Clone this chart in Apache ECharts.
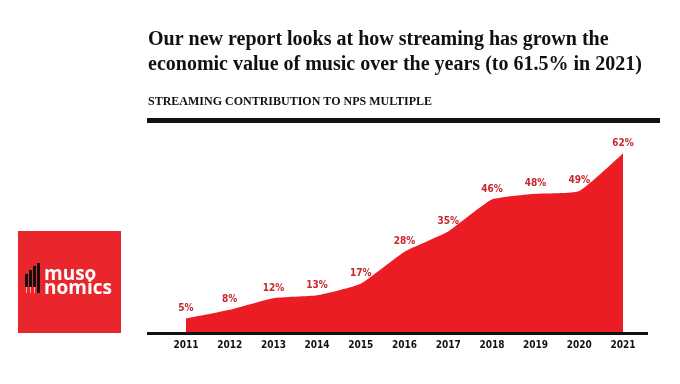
<!DOCTYPE html>
<html><head><meta charset="utf-8">
<script src="https://cdn.jsdelivr.net/npm/echarts@6/dist/echarts.min.js"></script>
<style>html,body{margin:0;padding:0;background:#fff}#c{width:680px;height:384px}</style>
</head><body><div id="c"></div>
<script>
var years = ['2011','2012','2013','2014','2015','2016','2017','2018','2019','2020','2021'];
var share = [5, 8, 12, 13, 17, 28, 35, 46, 48, 49, 62];
var labels = ['5%','8%','12%','13%','17%','28%','35%','46%','48%','49%','62%'];

var chart = echarts.init(document.getElementById('c'));
var RED = '#ec1c24';
var COND = '"DejaVu Sans Condensed"';
var option = {
  animation: false,
  backgroundColor: '#fff',
  grid: {left: 186, right: 57, top: 130, bottom: 51},
  xAxis: {
    type: 'category', data: years, boundaryGap: false,
    axisLine: {show: false}, axisTick: {show: false},
    axisLabel: {color: '#111', fontFamily: COND, fontWeight: 'bold', fontSize: 10, margin: 7}
  },
  yAxis: {type: 'value', min: 0, max: 70, show: false, splitLine: {show: false}},
  series: [{
    type: 'line', data: share, symbol: 'circle', symbolSize: 2, showSymbol: true,
    itemStyle: {color: 'rgba(0,0,0,0)', borderWidth: 0},
    smooth: 0.15,
    lineStyle: {width: 0},
    areaStyle: {color: RED, opacity: 1},
    label: {
      show: true, position: 'top', distance: 4,
      formatter: function (p) { return labels[p.dataIndex]; },
      color: '#c8262d', fontFamily: COND, fontWeight: 'bold', fontSize: 10
    }
  }],
  graphic: [
    {type: 'text', left: 148, top: 27, style: {text: 'Our new report looks at how streaming has grown the\neconomic value of music over the years (to 61.5% in 2021)', font: 'bold 20px "Liberation Serif"', fill: '#111', lineHeight: 25}},
    {type: 'text', left: 148, top: 96, style: {text: 'STREAMING CONTRIBUTION TO NPS MULTIPLE', font: 'bold 12px "Liberation Serif"', fill: '#111'}},
    {type: 'rect', shape: {x: 147, y: 118, width: 513, height: 5}, style: {fill: '#111'}},
    {type: 'rect', shape: {x: 147, y: 332, width: 501, height: 3}, style: {fill: '#111'}, z: 10},
    {type: 'rect', shape: {x: 18, y: 231, width: 103, height: 102}, style: {fill: '#e8262c'}},
    {type: 'rect', shape: {x: 25, y: 274, width: 3, height: 13}, style: {fill: '#111'}},
    {type: 'rect', shape: {x: 29, y: 270, width: 3, height: 17}, style: {fill: '#111'}},
    {type: 'rect', shape: {x: 33, y: 266, width: 3, height: 21}, style: {fill: '#111'}},
    {type: 'rect', shape: {x: 37, y: 263, width: 3, height: 30}, style: {fill: '#111'}},
    {type: 'rect', shape: {x: 26, y: 287, width: 1, height: 6}, style: {fill: '#f5b0b0'}},
    {type: 'rect', shape: {x: 30, y: 287, width: 1, height: 6}, style: {fill: '#f5b0b0'}},
    {type: 'rect', shape: {x: 34, y: 287, width: 1, height: 6}, style: {fill: '#f5b0b0'}},
    {type: 'text', left: 44, top: 265, style: {text: 'muso\nnomics', font: 'bold 19px "Open Sans"', fill: '#fff', lineHeight: 14}}
  ]
};
chart.setOption(option);
</script></body></html>
